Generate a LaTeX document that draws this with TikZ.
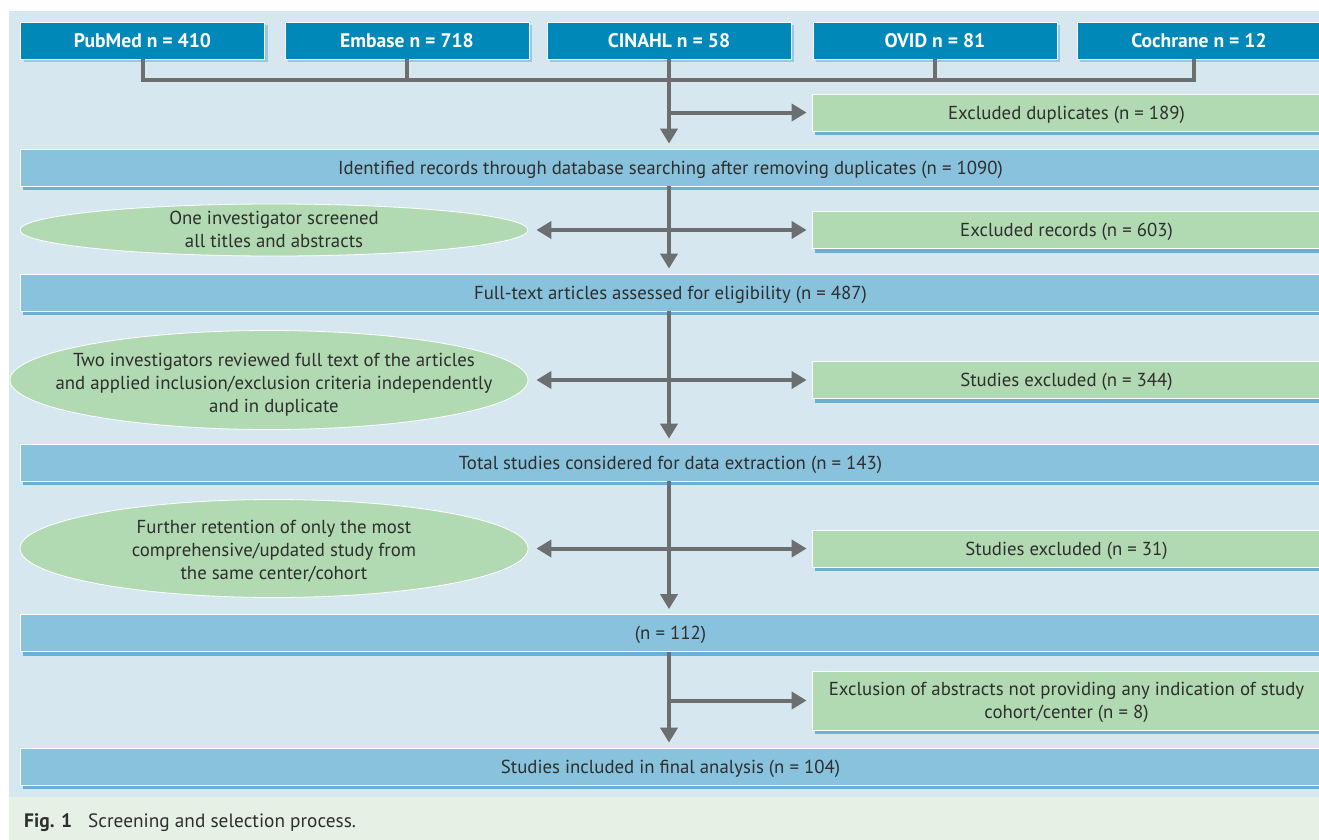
\documentclass[tikz,border=0pt]{standalone}
\usepackage{fontspec}
\setmainfont{PT Sans}
\usetikzlibrary{arrows.meta,shapes.geometric,shadows}
\definecolor{panel}{HTML}{D7E7F0}
\definecolor{capband}{HTML}{E6F1E5}
\definecolor{dblue}{HTML}{0088B8}
\definecolor{lblue}{HTML}{89C2DD}
\definecolor{lgreen}{HTML}{B2DAB2}
\definecolor{agray}{HTML}{6D6E70}
\definecolor{shblue}{HTML}{4FA3CF}
\definecolor{txt}{HTML}{2E2E2E}
\begin{document}
\begin{tikzpicture}[x=1pt,y=-1pt,
  bodyfont/.style={font=\fontsize{18.8}{23}\selectfont},
  srcbox/.style={rectangle, fill=dblue, draw=white, line width=0.8pt, text=white,
    font=\fontsize{19.6}{23}\selectfont\bfseries, minimum width=244pt, minimum height=37pt, inner sep=0pt,
    drop shadow={shadow xshift=3pt, shadow yshift=-3pt, fill=shblue, opacity=0.45}},
  stagebox/.style={rectangle, fill=lblue, draw=white, line width=0.8pt, text=txt, bodyfont,
    minimum width=1301pt, minimum height=37pt, inner sep=0pt, text height=15pt, text depth=2pt,
    drop shadow={shadow xshift=3pt, shadow yshift=-4pt, fill=shblue, opacity=0.8}},
  exclbox/.style={rectangle, fill=lgreen, draw=white, line width=0.8pt, text=txt, bodyfont,
    minimum width=509pt, minimum height=37pt, inner sep=0pt, align=center,
    drop shadow={shadow xshift=3pt, shadow yshift=-4pt, fill=shblue, opacity=0.8}},
  onelinetext/.style={text height=15pt, text depth=2pt},
  oval/.style={ellipse, fill=lgreen, draw=white, line width=0.8pt, inner sep=0pt},
  ovaltext/.style={text=txt, bodyfont, align=center, inner sep=0pt},
  conn/.style={draw=agray, line width=4pt, line join=miter},
  arr/.style={conn, -{Triangle[length=15pt,width=17pt]}, shorten >=5pt},
  darr/.style={conn, {Triangle[length=15pt,width=17pt]}-{Triangle[length=15pt,width=17pt]}, shorten >=5pt, shorten <=8pt}
]
\useasboundingbox (0,0) rectangle (1319,839);
\fill[panel] (9,11) rectangle (1330,797);
\fill[capband] (9,797) rectangle (1330,845);

% sources
\node[srcbox] (pub)  at (142.5,40.5) {PubMed n = 410};
\node[srcbox] (emb)  at (407,40.5)   {Embase n = 718};
\node[srcbox] (cin)  at (669,40.5)   {CINAHL n = 58};
\node[srcbox] (ovid) at (935,40.5)   {OVID n = 81};
\node[srcbox] (coch) at (1199,40.5)  {Cochrane n = 12};
\coordinate (bus) at (669,80);

% stages
\node[stagebox] (id)    at (670.5,167.5) {Identified records through database searching after removing duplicates (n = 1090)};
\node[stagebox] (full)  at (670.5,292.5) {Full-text articles assessed for eligibility (n = 487)};
\node[stagebox] (total) at (670.5,462.5) {Total studies considered for data extraction (n = 143)};
\node[stagebox] (n112)  at (670.5,633)   {(n = 112)};
\node[stagebox] (final) at (670.5,766.5) {Studies included in final analysis (n = 104)};

% exclusions
\node[exclbox, onelinetext] (dup)   at (1066.5,112.5) {Excluded duplicates (n = 189)};
\node[exclbox, onelinetext] (exrec) at (1066.5,230)   {Excluded records (n = 603)};
\node[exclbox, onelinetext] (ex344) at (1066.5,380)   {Studies excluded (n = 344)};
\node[exclbox, onelinetext] (ex31)  at (1066.5,548.5) {Studies excluded (n = 31)};
\node[exclbox, minimum height=59pt] (exabs) at (1066.5,700.5) {};
\node[ovaltext] (exabst) at (1066.5,702) {Exclusion of abstracts not providing any indication of study\\cohort/center (n = 8)};

% process ovals
\node[oval, minimum width=508pt, minimum height=52pt] (e1) at (274,230) {};
\node[ovaltext] (e1t) at (274,229.5) {One investigator screened\\all titles and abstracts};
\node[oval, minimum width=518pt, minimum height=99pt] (e2) at (269,380) {};
\node[ovaltext] (e2t) at (274,385) {Two investigators reviewed full text of the articles\\and applied inclusion/exclusion criteria independently\\and in duplicate};
\node[oval, minimum width=508pt, minimum height=98pt] (e3) at (274,548.5) {};
\node[ovaltext] (e3t) at (274,551.5) {Further retention of only the most\\comprehensive/updated study from\\the same center/cohort};

% bus
\draw[conn] (pub.south) |- (bus) -| ([xshift=-5pt]coch.south);
\draw[conn] (emb.south) -- (emb.south |- bus);
\draw[conn] (ovid.south) -- (ovid.south |- bus);

% spine
\draw[arr] (cin.south) -- (cin.south |- id.north);
\draw[arr] (cin.south |- dup.west) -- (dup.west);
\draw[arr] (cin.south |- id.south) -- (cin.south |- full.north);
\draw[darr] (e1.east) -- (exrec.west);
\draw[arr] (cin.south |- full.south) -- (cin.south |- total.north);
\draw[darr] (e2.east) -- (ex344.west);
\draw[arr] (cin.south |- total.south) -- (cin.south |- n112.north);
\draw[darr] (e3.east |- ex31.west) -- (ex31.west);
\draw[arr] (cin.south |- n112.south) -- (cin.south |- final.north);
\draw[arr] (cin.south |- exabs.west) -- (exabs.west);

% caption
\node[anchor=base west, inner sep=0pt, text=txt, font=\fontsize{19.5}{23}\selectfont\bfseries] (figlbl) at (24,827) {Fig. 1};
\node[anchor=base west, inner sep=0pt, text=txt, font=\fontsize{19.3}{23}\selectfont] (cap) at (88,827) {Screening and selection process.};
\end{tikzpicture}
\end{document}
